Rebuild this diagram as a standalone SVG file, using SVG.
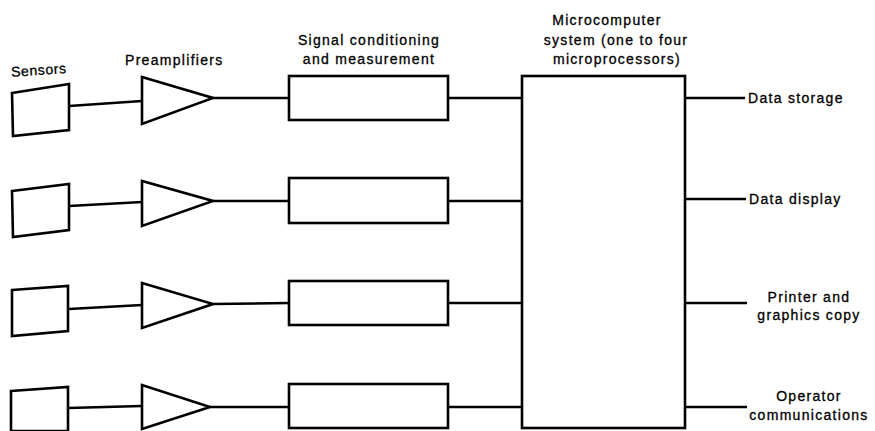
<svg xmlns="http://www.w3.org/2000/svg" width="875" height="431" viewBox="0 0 875 431">
<style>
.s{fill:none;stroke:#000;stroke-width:2.6;stroke-linejoin:miter}
.w{fill:#fff;stroke:#000;stroke-width:2.6}
.c{fill:none;stroke:#000;stroke-width:2.6}
text{font-family:"Liberation Sans",Arial,sans-serif;font-size:14px;letter-spacing:1.3px;fill:#000;stroke:#000;stroke-width:0.3}
.m{text-anchor:middle}
</style>
<rect width="875" height="431" fill="#fff"/>
<g id="connectors">
<path class="c" d="M69,106 L142,101 M213,98 L289,98 M448,98 L522,98"/>
<path class="c" d="M69,206 L142,202 M213,201 L289,201 M448,201 L522,201"/>
<path class="c" d="M69,309 L142,305 M213,304 L289,303 M448,303 L522,303"/>
<path class="c" d="M68,408 L142,406 M210,407 L289,407 M448,407 L522,407"/>
<path class="c" d="M686,98 L745,98 M686,199 L746,199 M686,303 L747,303 M686,407 L747,407"/>
</g>
<g id="sensors">
<text x="11" y="75" transform="rotate(-4 38 70)" style="letter-spacing:0.6px">Sensors</text>
<polygon class="w" points="12,93 69,84 69,130 13,136"/>
<polygon class="w" points="12,191 69,184 69,230 13,237"/>
<polygon class="w" points="12,290 68,286 68,331 12,336"/>
<polygon class="w" points="11,391 68,387 68,431 11,431"/>
</g>
<g id="preamplifiers">
<text x="125" y="65">Preamplifiers</text>
<polygon class="w" points="142,77 142,124 213,98"/>
<polygon class="w" points="142,181 142,226 213,201"/>
<polygon class="w" points="142,283 142,328 213,304"/>
<polygon class="w" points="142,385 142,429 210,407"/>
</g>
<g id="signal-conditioning">
<text class="m" x="369" y="45">Signal conditioning</text>
<text class="m" x="369" y="64">and measurement</text>
<rect class="w" x="289" y="76" width="159" height="44"/>
<rect class="w" x="289" y="178" width="159" height="45"/>
<rect class="w" x="289" y="281" width="159" height="44"/>
<rect class="w" x="289" y="384" width="159" height="44"/>
</g>
<g id="microcomputer">
<text class="m" x="607" y="25">Microcomputer</text>
<text class="m" x="616" y="45">system (one to four</text>
<text class="m" x="617" y="64">microprocessors)</text>
<rect class="w" x="522" y="76" width="163" height="352"/>
</g>
<g id="data-storage"><text x="748" y="103">Data storage</text></g>
<g id="data-display"><text x="749" y="204">Data display</text></g>
<g id="printer"><text class="m" x="809" y="302">Printer and</text><text class="m" x="809" y="320">graphics copy</text></g>
<g id="operator"><text class="m" x="809" y="401">Operator</text><text class="m" x="809" y="420">communications</text></g>
</svg>
